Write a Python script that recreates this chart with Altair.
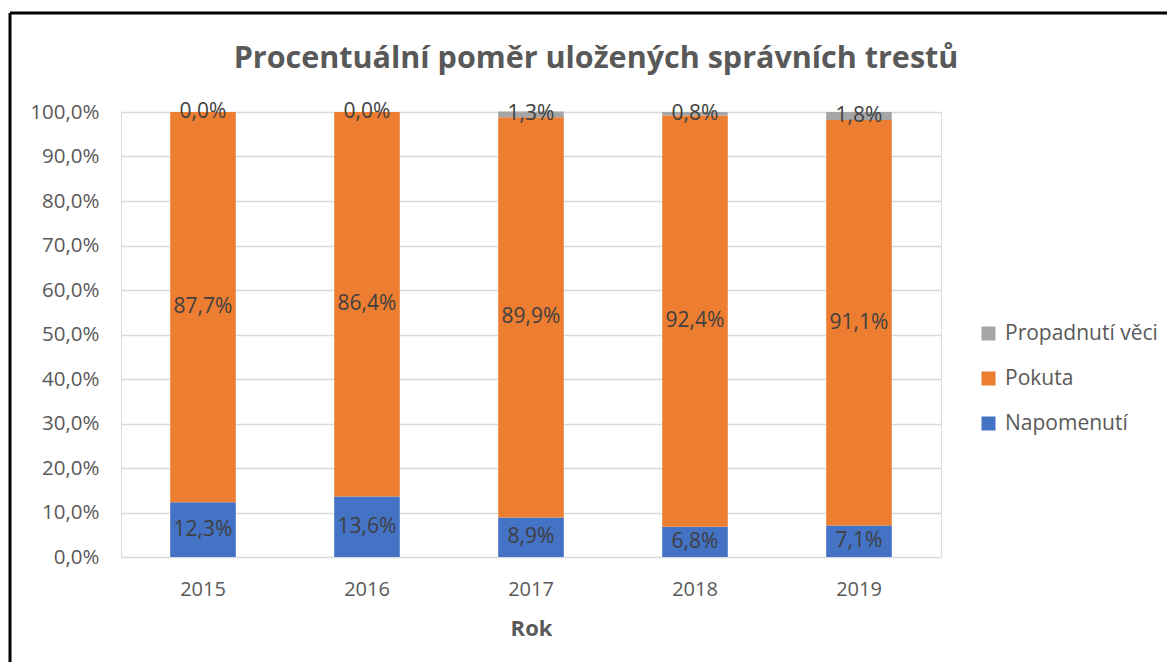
import altair as alt
import pandas as pd

years = ["2015", "2016", "2017", "2018", "2019"]
categories = ["Napomenutí", "Pokuta", "Propadnutí věci"]
napomenuti = [12.3, 13.6, 8.9, 6.8, 7.1]
pokuta = [87.7, 86.4, 89.9, 92.4, 91.1]
propadnuti = [0.0, 0.0, 1.3, 0.8, 1.8]
colors = {"Napomenutí": "#4472C4", "Pokuta": "#ED7D31", "Propadnutí věci": "#A5A5A5"}
y_ticks = [i / 10 for i in range(11)]

rows = []
for series, vals in zip(categories, [napomenuti, pokuta, propadnuti]):
    for y, v in zip(years, vals):
        rows.append({"year": y, "cat": series, "value": v / 100, "ord": categories.index(series)})
df = pd.DataFrame(rows)

FONT = "Open Sans"
legend_order = ["Propadnutí věci", "Pokuta", "Napomenutí"]

base = alt.Chart(df).transform_stack(
    stack="value", as_=["y0", "y1"], groupby=["year"], sort=[alt.SortField("ord", order="ascending")]
).transform_calculate(
    mid="(datum.y0 + datum.y1) / 2",
    lab="replace(format(datum.value, '.1%'), '.', ',')",
)

x_enc = alt.X(
    "year:N",
    title="Rok",
    sort=years,
    scale=alt.Scale(paddingInner=0.6, paddingOuter=0.3),
    axis=alt.Axis(
        labelAngle=0, labelFontSize=20, labelColor="#595959", labelPadding=22,
        ticks=False, domain=False, titleFontSize=22, titleColor="#595959",
        titleFontWeight="bold", titlePadding=19, labelFont=FONT, titleFont=FONT,
    ),
)

bars = base.mark_bar().encode(
    x=x_enc,
    y=alt.Y(
        "y0:Q",
        title=None,
        scale=alt.Scale(domain=[0, 1], nice=False),
        axis=alt.Axis(
            values=y_ticks,
            labelExpr="replace(format(datum.value, '.1%'), '.', ',')",
            labelFontSize=20.5, labelColor="#595959", labelPadding=22,
            ticks=False, domain=False, gridColor="#D9D9D9", gridWidth=1.5,
            labelFont=FONT,
        ),
    ),
    y2="y1:Q",
    color=alt.Color(
        "cat:N",
        scale=alt.Scale(domain=legend_order, range=[colors[c] for c in legend_order]),
        legend=alt.Legend(
            title=None, orient="none", legendX=857, legendY=211,
            symbolType="square", symbolSize=196, symbolStrokeWidth=0,
            labelFontSize=21, labelColor="#595959", labelFont=FONT,
            rowPadding=23, labelOffset=6,
        ),
    ),
)

texts = base.mark_text(fontSize=21, color="#404040", font=FONT, baseline="middle").encode(
    x=alt.X("year:N", sort=years),
    y=alt.Y("mid:Q"),
    text="lab:N",
)

frame = pd.DataFrame({"k": [0]})
top_line = alt.Chart(frame).mark_rule(color="black", strokeWidth=3).encode(
    x=alt.value(-111), x2=alt.value(1100), y=alt.value(-99)
)
left_line = alt.Chart(frame).mark_rule(color="black", strokeWidth=3).encode(
    x=alt.value(-111), y=alt.value(-99), y2=alt.value(600)
)

chart = alt.layer(bars, texts, top_line, left_line).properties(
    width=820,
    height=445,
    title=alt.TitleParams(
        "Procentuální poměr uložených správních trestů",
        fontSize=30.5, fontWeight="bold", color="#595959", font=FONT,
        anchor="middle", frame="group", dx=65, dy=63, offset=0,
    ),
    autosize=alt.AutoSizeParams(type="none"),
    padding={"left": 113, "top": 104, "right": 226, "bottom": 105},
).configure_view(stroke=None).configure(background="white")

chart.save("out.html", embed_options={"renderer": "svg", "actions": False})
